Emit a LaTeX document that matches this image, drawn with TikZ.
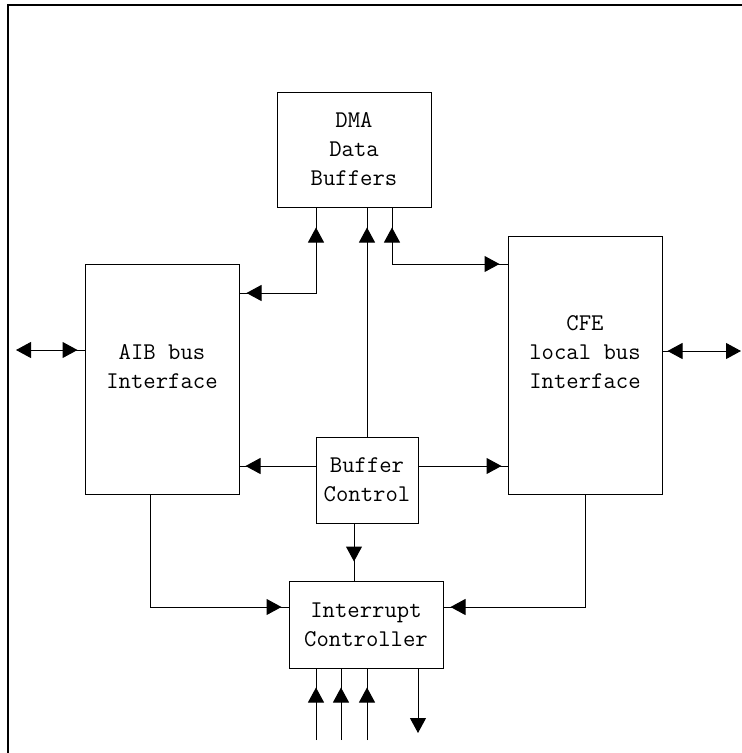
\documentclass[tikz,border=0pt]{standalone}
\usepackage{fontspec}
\usetikzlibrary{arrows.meta,decorations.markings}

\begin{document}
\begin{tikzpicture}[x=1pt,y=-1pt,line width=1pt,>={Triangle[length=15pt,width=16pt]}]
    \tikzstyle{block}=[draw,rectangle,inner sep=0pt,align=center,font=\ttfamily\fontsize{24}{29}\selectfont]
    \tikzstyle{annot}=[align=center,inner sep=0pt,font=\ttfamily\fontsize{24}{29}\selectfont]
    \tikzset{tip end/.style={postaction={decorate,decoration={markings,mark=at position -#1 with {\arrow{>}}}}},
             tip start/.style={postaction={decorate,decoration={markings,mark=at position #1 with {\arrowreversed{>}}}}}}

    \useasboundingbox (0,0) rectangle (742,753);
    % Frame round the page
    \draw[line width=1.3pt] (8,753) -- (8,5) -- (742,5);

    % Draw the blocks
    \node[block, minimum width=154pt, minimum height=115pt] (D) at (354,149.5) {DMA\\Data\\Buffers};
    \node[block, minimum width=154pt, minimum height=230pt,
          label={[annot,name=A-t,yshift=12pt]center:AIB bus\\Interface}] (A) at (162,379) {};
    \node[block, minimum width=154pt, minimum height=258pt,
          label={[annot,name=C-t,yshift=13pt]center:CFE\\local bus\\Interface}] (C) at (585,365) {};
    \node[block, minimum width=102pt, minimum height=86pt] (B) at (367,480) {Buffer\\Control};
    \node[block, minimum width=154pt, minimum height=87pt] (I) at (366,624.5) {Interrupt\\Controller};

    % Outside ends of the lines
    \coordinate (A-ext) at (16,350);
    \coordinate (C-ext) at (741,351);
    \coordinate (I-out) at (418,733);
    \foreach \name / \x in {1/316,2/341,3/367}
        \coordinate (I-in\name) at (\x,740);

    % Bus links
    \draw[<-, tip end=7pt] (A-ext) -- (A-ext -| A.west);
    \draw[->, tip start=5pt] (C-ext -| C.east) -- (C-ext);

    % DMA buffers to both interfaces
    \draw[tip start=7pt, tip end=20pt] (A.east |- 0,293) -- (316,293) -- (316,0 |- D.south);
    \draw[tip start=20pt, tip end=8pt] (392,0 |- D.south) -- (392,264) -- (C.west |- 0,264);

    % Buffer control
    \draw[tip end=20pt] (B.north) -- (B.north |- D.south);
    \draw[tip end=6pt] (B.west |- 0,466) -- (A.east |- 0,466);
    \draw[tip end=6pt] (B.east |- 0,466) -- (C.west |- 0,466);
    \draw[tip end=19pt] (354,0 |- B.south) -- (354,0 |- I.north);

    % Interrupt lines
    \draw[tip end=7pt] (150,0 |- A.south) -- (150,607) -- (I.west |- 0,607);
    \draw[tip end=7pt] (C.south) -- (C.south |- 0,607) -- (I.east |- 0,607);
    \foreach \name in {1,2,3}
        \draw[tip end=19pt] (I-in\name) -- (I-in\name |- I.south);
    \draw[->] (I-out |- I.south) -- (I-out);
\end{tikzpicture}
\end{document}
